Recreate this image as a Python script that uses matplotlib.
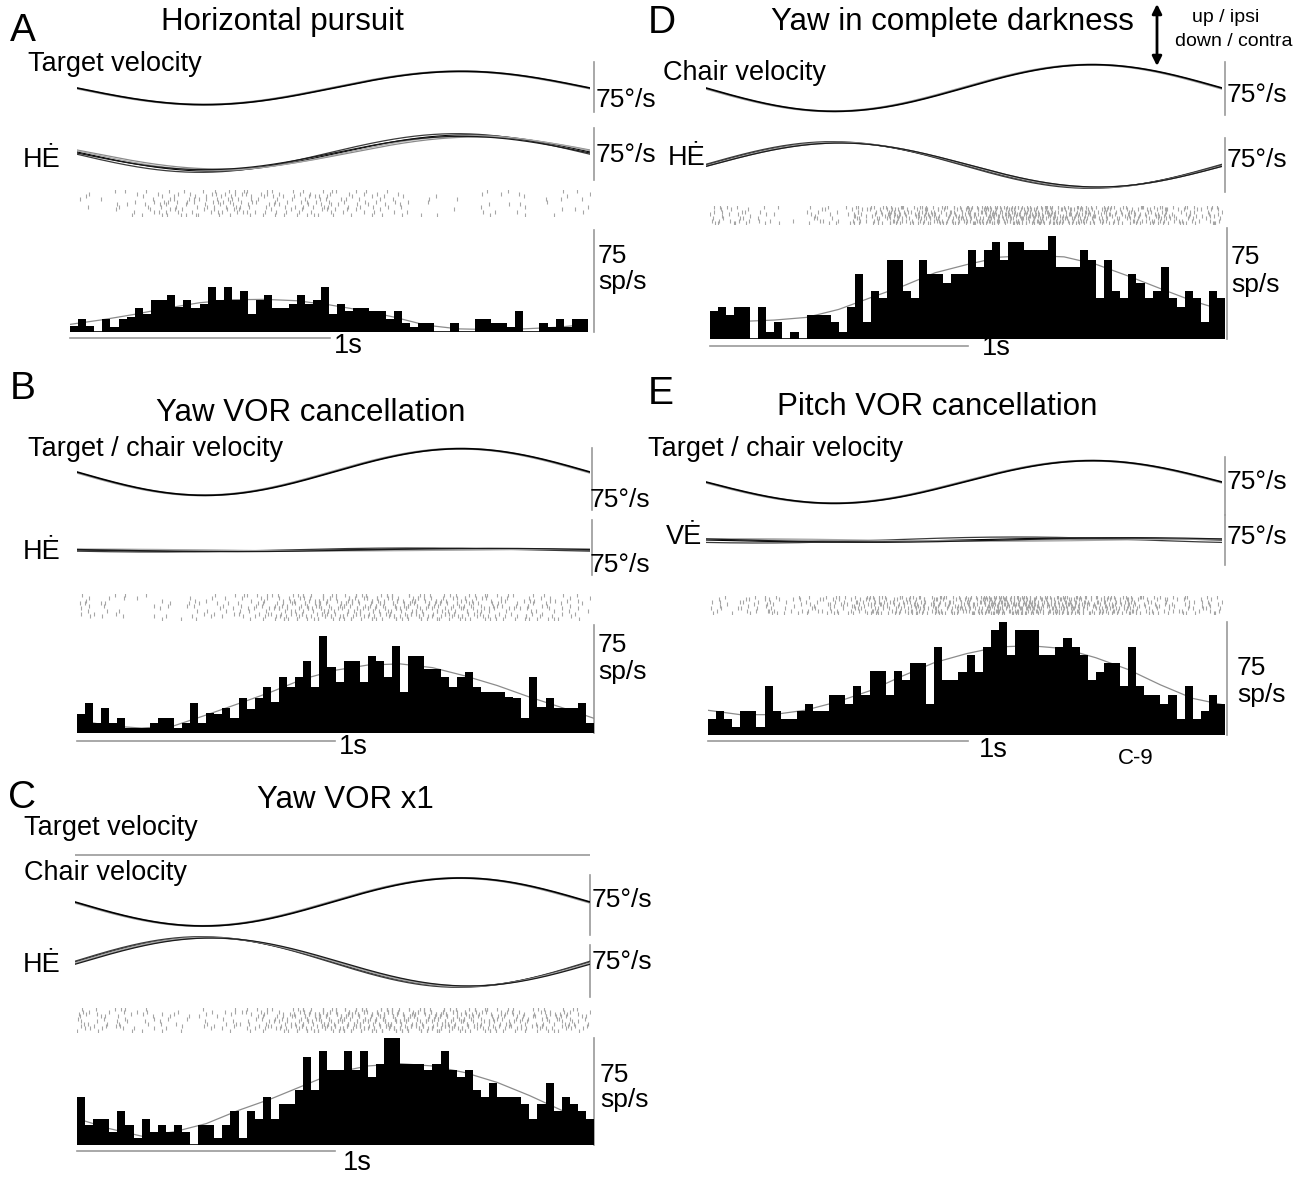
import numpy as np
import matplotlib
matplotlib.use('Agg')
import matplotlib.pyplot as plt

plt.rcParams['font.family'] = ['Liberation Sans', 'DejaVu Sans']

# ---------------- data ----------------
# PSTH values (sp/s), 64 bins of 31.25 ms covering one 2 s cycle
hist_A = [4.1, 9.5, 4.1, 0, 9.5, 3.4, 9.5, 11.3, 17.6, 12.9,
          23.3, 23.3, 27.1, 18.5, 23.5, 17.6, 20.3, 33.2, 23.5, 33.2,
          23.5, 29.8, 12.9, 23.5, 27.1, 17.6, 17.6, 20.3, 27.1, 20.3,
          23.5, 33.2, 12.9, 20.3, 15.4, 17.6, 17.6, 15.8, 15.8, 9.5,
          15.8, 6.8, 3.4, 6.3, 6.3, 0, 0, 6.3, 0, 0,
          9.5, 9.5, 6.3, 6.3, 3.4, 15.8, 0, 0, 6.3, 3.4,
          9.5, 3.4, 9.5, 9.5]
hist_B = [13.0, 20.9, 6.8, 17.7, 6.8, 10.7, 3.4, 3.4, 3.4, 6.8,
          10.7, 10.7, 3.4, 6.8, 20.5, 6.8, 13.6, 13.0, 17.7, 10.7,
          24.5, 17.0, 24.5, 31.8, 21.6, 38.6, 31.8, 38.6, 50.0, 31.8,
          67.5, 45.9, 35.2, 50.0, 50.0, 35.2, 53.4, 50.0, 38.6, 60.7,
          28.4, 53.4, 53.4, 44.3, 44.3, 38.6, 31.8, 38.6, 42.5, 31.8,
          28.4, 28.4, 28.4, 25.0, 24.5, 10.7, 38.6, 18.2, 24.5, 17.7,
          17.7, 17.7, 20.9, 6.8]
hist_C = [33.5, 14.3, 18.5, 18.5, 9.2, 23.8, 14.3, 5.1, 18.5, 9.2,
          14.3, 9.2, 13.8, 9.2, 0, 14.3, 14.3, 5.1, 14.3, 23.8,
          5.1, 23.8, 18.5, 33.5, 18.5, 28.8, 28.8, 38.5, 61.6, 38.5,
          66.2, 52.4, 52.4, 66.2, 52.4, 66.2, 47.8, 57.0, 75.5, 75.5,
          57.0, 57.0, 57.0, 52.4, 57.0, 66.2, 52.4, 47.8, 52.4, 38.5,
          33.9, 43.2, 33.9, 33.9, 33.9, 28.4, 18.5, 28.4, 43.2, 23.8,
          33.5, 28.4, 23.8, 18.5]
hist_D = [19.0, 21.7, 16.1, 21.3, 21.3, 0, 21.3, 4.9, 11.2, 0,
          4.9, 0, 16.1, 16.1, 16.1, 11.2, 4.9, 21.3, 43.7, 11.2,
          32.5, 28.0, 53.7, 53.7, 32.5, 28.0, 53.7, 43.7, 43.7, 38.1,
          43.7, 43.7, 59.8, 48.8, 59.8, 65.4, 53.7, 65.4, 65.4, 59.8,
          59.8, 59.8, 69.4, 48.8, 48.8, 48.8, 59.8, 53.7, 28.0, 53.7,
          32.5, 28.0, 43.7, 38.1, 28.0, 32.5, 48.8, 28.0, 21.3, 32.5,
          28.0, 11.2, 32.5, 28.0]
hist_E = [10.8, 16.0, 10.8, 5.2, 16.0, 16.0, 5.2, 32.2, 16.0, 10.8,
          10.8, 16.0, 20.9, 16.0, 16.0, 26.6, 26.6, 20.9, 32.2, 26.6,
          42.3, 42.3, 26.6, 42.3, 36.7, 48.0, 48.0, 20.9, 58.1, 36.7,
          36.7, 41.9, 53.1, 41.9, 58.1, 69.4, 75.7, 53.1, 69.8, 69.8,
          69.8, 53.1, 53.1, 58.1, 64.4, 58.1, 53.1, 36.7, 41.9, 48.0,
          48.0, 32.2, 58.1, 32.2, 26.6, 26.6, 20.9, 26.6, 10.8, 32.2,
          10.8, 16.0, 26.6, 20.9]

# Sinusoidal fits, sampled every 4 bins (0.125 s), sp/s
fit_A = [5.6, 9.0, 13.0, 17.6, 21.5, 23.7, 24.0, 23.0, 20.0, 16.0, 11.0, 5.0, 2.3, 1.8, 2.3, 3.4, 5.6]
fit_B = [9.0, 5.0, 3.4, 5.0, 12.5, 20.4, 28.4, 37.5, 43.6, 47.2, 48.0, 45.4, 39.7, 33.0, 25.0, 17.7, 10.2]
fit_C = [18.5, 11.5, 6.2, 9.2, 15.0, 24.3, 32.3, 41.6, 50.8, 55.4, 57.0, 55.4, 50.8, 43.9, 34.7, 24.3, 11.6]
fit_D = [11.9, 11.9, 12.8, 14.6, 20.0, 28.0, 35.8, 44.8, 50.4, 55.3, 56.4, 55.5, 50.4, 42.5, 34.0, 25.7, 19.0]
fit_E = [16.4, 13.5, 13.5, 16.4, 22.0, 29.3, 39.0, 48.0, 54.0, 58.5, 59.2, 57.4, 51.3, 43.5, 33.3, 24.3, 19.8]

# Velocity traces: sinusoid amplitude (deg/s) and lag (s) of each overlaid trial
stim_amp = {'A': 25, 'B': 35, 'C': 36, 'D': 35, 'E': 32}
stim_sign = {'A': -1, 'B': -1, 'C': -1, 'D': -1, 'E': -1}
eye_sign = {'A': -1, 'B': -1, 'C': 1, 'D': 1, 'E': -1}
eye_amps = {'A': [27, 24, 29, 26, 25],
            'B': [2.0, 1.0, 3.0, 1.5, 2.5],
            'C': [37, 36, 38, 37, 36],
            'D': [34, 33, 35, 34, 33],
            'E': [3.0, 1.5, 4.5, 2.0, 3.5]}
eye_lags = {'A': [0.02, 0.06, -0.02, 0.04, 0.0],
            'B': [0.0, 0.3, -0.2, 0.5, 0.1],
            'C': [0.0, 0.02, -0.01, 0.01, 0.03],
            'D': [0.0, 0.02, -0.01, 0.01, 0.02],
            'E': [0.0, 0.3, -0.3, 0.6, 0.15]}
c_target_velocity = [0, 0]   # target held still in panel C

# ---------------- figure ----------------
W, H, DPI = 1311, 1178, 100
fig = plt.figure(figsize=(W / DPI, H / DPI), dpi=DPI)
fig.patch.set_facecolor('white')


def box(x0, ytop, x1, ybot):
    return [x0 / W, 1 - ybot / H, (x1 - x0) / W, (ybot - ytop) / H]


ov = fig.add_axes([0, 0, 1, 1])
ov.set_xlim(0, W)
ov.set_ylim(H, 0)
ov.axis('off')

t = np.linspace(0, 2, 500)
TRIAL_COLORS = ['black', '#8a8a8a', '#3a3a3a', '#a8a8a8', '#1a1a1a']
PERM10 = [3, 7, 0, 5, 9, 2, 6, 1, 8, 4]
PERM8 = [5, 2, 7, 0, 3, 6, 1, 4]


def trace_axes(x0, x1, yc):
    ax = fig.add_axes(box(x0, yc - 40, x1, yc + 40))
    ax.set_xlim(0, 2)
    ax.set_ylim(-60, 60)
    ax.axis('off')
    return ax


def stim_trace(x0, x1, yc, key):
    ax = trace_axes(x0, x1, yc)
    a = stim_amp[key] * stim_sign[key]
    ax.plot(t, a * np.sin(np.pi * (t + 0.01)), color='#9a9a9a', lw=1.5)
    ax.plot(t, a * np.sin(np.pi * t), color='black', lw=1.2)


def eye_trace(x0, x1, yc, key):
    ax = trace_axes(x0, x1, yc)
    s = eye_sign[key]
    for a, lag, c in zip(eye_amps[key], eye_lags[key], TRIAL_COLORS):
        ax.plot(t, s * a * np.sin(np.pi * (t - lag)), color=c, lw=0.9)


def raster(x0, x1, ytop, ybot, vals, per_spike=3.3, nrows=10):
    # spike counts per bin taken from the PSTH; spread over the trial rows
    perm = PERM10 if nrows == 10 else PERM8
    ax = fig.add_axes(box(x0, ytop, x1, ybot))
    xs, ys = [], []
    for i, v in enumerate(vals):
        n = int(round(v / per_spike))
        for j in range(n):
            slot = PERM10[(3 * j + 7 * i) % 10]
            xs.append(i + (slot + 0.5) / 10.0)
            ys.append(perm[(j + 5 * i + (i // 3)) % nrows])
    ax.plot(xs, ys, '|', color='#a6a6a6', ms=2.2, mew=0.8)
    ax.set_xlim(0, 64)
    ax.set_ylim(nrows - 0.5, -0.5)
    ax.axis('off')


def psth(x0, x1, ybase, scale_px, vals, fit):
    ax = fig.add_axes(box(x0, ybase - scale_px, x1, ybase))
    ax.plot(np.arange(0, 65, 4), fit, color='#8c8c8c', lw=0.9, zorder=1)
    ax.bar(np.arange(len(vals)), vals, width=1.0, align='edge',
           color='black', lw=0, zorder=2)
    ax.axhline(0, color='black', lw=1.2, zorder=3)
    ax.set_xlim(0, 64)
    ax.set_ylim(0, 75)
    ax.axis('off')


def vbar(x, y0, y1):
    ov.plot([x, x], [y0, y1], color='#9a9a9a', lw=1.2)


def hbar(y, x0, x1):
    ov.plot([x0, x1], [y, y], color='#9a9a9a', lw=1.2)


def txt(x, y, s, size, ha='left', **kw):
    ov.text(x, y, s, fontsize=size, ha=ha, va='center', color='black', **kw)


LET, TIT, LAB, SC, ONE = 28, 22.5, 19.5, 19, 19.5

# ---- Panel A ----
txt(10, 31, 'A', LET)
txt(282, 22, 'Horizontal pursuit', TIT, ha='center')
txt(28, 64, 'Target velocity', LAB)
stim_trace(77, 590, 88, 'A')
txt(23, 160, 'HĖ', LAB)
eye_trace(77, 590, 153, 'A')
vbar(594, 62, 112); txt(596, 100, '75°/s', SC)
vbar(594, 128, 180); txt(596, 155, '75°/s', SC)
raster(77, 590, 190, 216, hist_A)
psth(70, 588, 332, 102, hist_A, fit_A)
vbar(594, 230, 332); txt(598, 256, '75', SC); txt(598, 282, 'sp/s', SC)
hbar(338, 70, 330); txt(348, 346, '1s', ONE, ha='center')

# ---- Panel B ----
txt(10, 389, 'B', LET)
txt(311, 413, 'Yaw VOR cancellation', TIT, ha='center')
txt(28, 449, 'Target / chair velocity', LAB)
stim_trace(77, 590, 472, 'B')
txt(23, 552, 'HĖ', LAB)
eye_trace(77, 590, 550, 'B')
vbar(592, 448, 510); txt(590, 500, '75°/s', SC)
vbar(592, 520, 575); txt(590, 565, '75°/s', SC)
raster(77, 590, 594, 620, hist_B)
psth(77, 594, 733, 108, hist_B, fit_B)
vbar(594, 625, 733); txt(598, 645, '75', SC); txt(598, 672, 'sp/s', SC)
hbar(741, 77, 335); txt(353, 747, '1s', ONE, ha='center')

# ---- Panel C ----
txt(8, 798, 'C', LET)
txt(345, 800, 'Yaw VOR x1', TIT, ha='center')
txt(24, 828, 'Target velocity', LAB)
axc = trace_axes(75, 590, 855)
axc.plot([0, 2], c_target_velocity, color='#9a9a9a', lw=1.2)
txt(24, 873, 'Chair velocity', LAB)
stim_trace(75, 590, 902, 'C')
txt(23, 965, 'HĖ', LAB)
eye_trace(75, 590, 962, 'C')
vbar(590, 875, 935); txt(592, 900, '75°/s', SC)
vbar(590, 945, 997); txt(592, 962, '75°/s', SC)
raster(77, 590, 1008, 1032, hist_C)
psth(77, 594, 1145, 107, hist_C, fit_C)
vbar(594, 1038, 1145); txt(600, 1075, '75', SC); txt(600, 1100, 'sp/s', SC)
hbar(1151, 77, 335); txt(357, 1163, '1s', ONE, ha='center')

# ---- Panel D ----
txt(648, 23, 'D', LET)
txt(952, 22, 'Yaw in complete darkness', TIT, ha='center')
ov.annotate('', xy=(1157, 4), xytext=(1157, 66),
            arrowprops=dict(arrowstyle='<|-|>', color='black', lw=2,
                            mutation_scale=14, shrinkA=0, shrinkB=0))
txt(1226, 18, 'up / ipsi', 14, ha='center')
txt(1234, 42, 'down / contra', 14, ha='center')
txt(663, 73, 'Chair velocity', LAB)
stim_trace(706, 1222, 88, 'D')
txt(668, 158, 'HĖ', LAB)
eye_trace(706, 1222, 165, 'D')
vbar(1225, 62, 115); txt(1227, 95, '75°/s', SC)
vbar(1225, 138, 192); txt(1227, 160, '75°/s', SC)
raster(710, 1222, 206, 224, hist_D, nrows=8)
psth(710, 1225, 339, 111, hist_D, fit_D)
vbar(1227, 228, 339); txt(1231, 257, '75', SC); txt(1231, 285, 'sp/s', SC)
hbar(346, 710, 968); txt(996, 348, '1s', ONE, ha='center')

# ---- Panel E ----
txt(648, 394, 'E', LET)
txt(937, 407, 'Pitch VOR cancellation', TIT, ha='center')
txt(648, 449, 'Target / chair velocity', LAB)
stim_trace(706, 1222, 482, 'E')
txt(666, 537, 'VĖ', LAB)
eye_trace(706, 1222, 540, 'E')
vbar(1225, 457, 515); txt(1227, 482, '75°/s', SC)
vbar(1225, 515, 565); txt(1227, 537, '75°/s', SC)
raster(708, 1222, 596, 614, hist_E, nrows=8)
psth(708, 1225, 735, 113, hist_E, fit_E)
vbar(1227, 622, 735); txt(1237, 668, '75', SC); txt(1237, 695, 'sp/s', SC)
hbar(741, 708, 968); txt(993, 750, '1s', ONE, ha='center')
txt(1136, 758, 'C-9', 16, ha='center')

fig.savefig('out.png', dpi=DPI, facecolor='white')
